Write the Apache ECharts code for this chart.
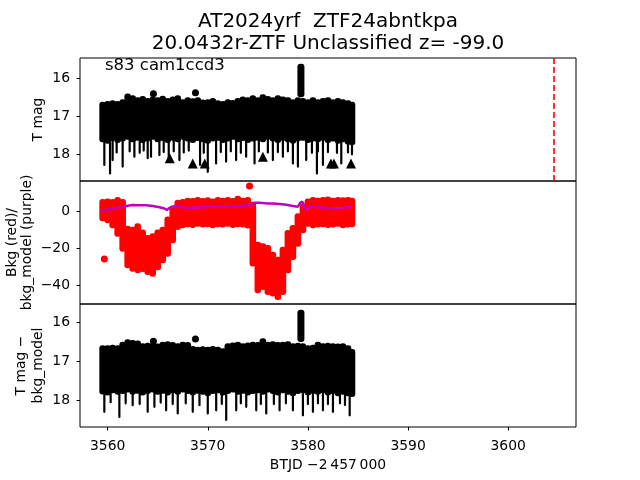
<!DOCTYPE html>
<html><head><meta charset="utf-8">
<script src="https://cdn.jsdelivr.net/npm/echarts@6/dist/echarts.min.js"></script>
<style>html,body{margin:0;padding:0;background:#fff}#c{width:640px;height:480px}</style>
</head><body><div id="c"></div>
<script>
// ---------- data ----------
const xTicks = [3560, 3570, 3580, 3590, 3600];
const magTicks = [16, 17, 18];
const bkgTicks = [-40, -20, 0];

// time bins of the dense light curve
const binT = [3559.5,3560,3560.5,3561,3561.5,3562,3562.5,3563,3563.5,3564,
  3564.5,3565,3565.5,3566,3566.5,3567,3567.5,3568,3568.5,3569,
  3569.5,3570,3570.5,3571,3571.5,3572,3572.5,3573,3573.5,3574,
  3574.5,3575,3575.5,3576,3576.5,3577,3577.5,3578,3578.5,3579,
  3579.5,3580,3580.5,3581,3581.5,3582,3582.5,3583,3583.5,3584,3584.4];

// panel 1: T mag envelope (bright edge / faint edge)
const magTop = [16.62,16.60,16.58,16.60,16.55,16.40,16.45,16.50,16.47,16.52,
  16.48,16.50,16.46,16.52,16.48,16.45,16.55,16.50,16.53,16.50,
  16.56,16.55,16.52,16.58,16.60,16.55,16.57,16.52,16.48,16.50,
  16.45,16.50,16.42,16.47,16.50,16.45,16.48,16.50,16.55,16.50,
  16.52,16.55,16.50,16.55,16.52,16.50,16.55,16.52,16.55,16.58,16.62];
const magBot = [17.68,17.72,17.65,17.70,17.66,17.62,17.68,17.64,17.70,17.66,
  17.62,17.68,17.65,17.70,17.64,17.68,17.62,17.66,17.70,17.65,
  17.68,17.72,17.66,17.64,17.70,17.66,17.62,17.68,17.65,17.70,
  17.66,17.64,17.68,17.62,17.66,17.70,17.64,17.68,17.72,17.66,
  17.64,17.70,17.66,17.68,17.64,17.70,17.66,17.72,17.68,17.74,17.76];
const spkT = [3559.67,3560.24,3560.5,3560.9,3561.5,3562.2,3562.67,3563.2,3563.6,3564.0,
  3564.33,3565.17,3565.6,3566.1,3566.6,3567.17,3567.6,3568.1,3569.23,3569.6,
  3570.0,3570.83,3571.3,3571.83,3572.3,3572.83,3573.3,3573.83,3574.67,3575.1,
  3576.0,3576.5,3577.0,3577.5,3578.0,3578.5,3579.0,3579.83,3580.4,3580.9,
  3581.0,3581.5,3582.0,3582.9,3583.33,3584.0,3584.4];
const spkLow = [18.28,18.5,18.15,17.95,18.32,17.92,18.06,17.96,17.9,18.1,
  18.06,18.02,17.94,18.19,17.92,18.15,17.95,17.9,18.28,17.96,
  18.46,18.24,17.94,18.19,17.92,18.15,17.96,18.06,18.24,17.92,
  17.95,18.15,17.94,18.06,17.92,18.24,18.32,18.15,17.96,18.5,
  17.92,18.28,17.94,17.96,18.24,17.95,18.0];
const dotT = [3564.57, 3568.77];
const dotMag = [16.41, 16.38];
const flareT = [3579.3];
const flareTop = [15.62];
const flareBot = [16.5];
const limT = [3566.2, 3568.5, 3569.7, 3575.5, 3582.3, 3582.6, 3584.3];
const limMag = [18.1, 18.24, 18.24, 18.06, 18.24, 18.24, 18.24];
const refLineT = [3604.5];

// panel 2: background (red) envelope and model (purple)
const bkgTop = [6.5,6.8,6.5,7.5,6.5,-8,-8.5,-6.7,-10,-13,
  -12,-10,-8.5,-3,3,6,6.5,7.2,7,7.5,
  7,7.4,6.8,7.5,7.2,7.6,7,8.2,7.2,7.5,
  5,-16.6,-17.5,-18.4,-22,-24.7,-19.3,-10.3,-7.6,-1.3,
  4,6.8,7.5,7.2,7.6,7.8,7.2,7.6,7.4,7.6,7.2];
const bkgBot = [-5.5,-6.7,-9.4,-13.9,-22,-31,-32.8,-33.7,-33,-34.6,
  -35.5,-32,-28.3,-24.7,-17.5,-10.3,-9.4,-8.8,-9.2,-8.6,
  -9,-8.8,-9.4,-8.8,-9,-8.6,-9.2,-8.8,-9,-9.5,
  -30,-44.5,-42.7,-45.4,-46.3,-48.1,-45.4,-33.7,-26.5,-19.3,
  -12,-8.5,-9.4,-9,-8.8,-9.2,-9,-8.6,-9.4,-9,-8.8];
const bkgOutT = [3559.67, 3574.17];
const bkgOutV = [-26, 13.5];
const modelT = [3559.3,3559.84,3560.5,3561.17,3561.84,3562.5,3563.17,3563.84,3564.5,3565.17,
  3565.67,3565.9,3566.17,3566.5,3566.84,3567.5,3568.17,3569.17,3570.5,3571.84,
  3573.17,3574.0,3574.34,3574.67,3575.17,3575.84,3576.5,3577.17,3577.84,3578.5,
  3579.0,3579.24,3579.44,3579.64,3579.84,3580.17,3580.5,3581.17,3581.84,3582.5,
  3583.17,3583.84,3584.4];
const modelV = [0.2,0.5,1.3,2.0,2.7,3.2,3.1,3.1,2.7,2.0,
  1.3,0.5,1.6,2.3,2.7,2.0,1.6,2.0,2.3,2.3,
  2.7,3.1,3.2,4.5,4.5,4.1,4.1,3.8,3.4,2.7,
  2.3,4.5,5.0,2.3,0.5,2.3,2.3,2.0,1.6,1.3,
  1.6,2.0,2.3];

// panel 3: T mag - bkg_model envelope
const resTop = [16.58,16.58,16.57,16.58,16.49,16.43,16.45,16.46,16.53,16.52,
  16.53,16.54,16.49,16.48,16.50,16.53,16.49,16.50,16.60,16.62,
  16.61,16.62,16.60,16.62,16.66,16.53,16.51,16.49,16.53,16.51,
  16.49,16.50,16.40,16.49,16.48,16.50,16.49,16.48,16.53,16.52,
  16.53,16.58,16.57,16.49,16.53,16.52,16.53,16.54,16.53,16.58,16.68];
const resBot = [17.85,17.88,17.82,17.86,17.84,17.80,17.86,17.83,17.88,17.84,
  17.80,17.86,17.83,17.88,17.82,17.86,17.80,17.84,17.88,17.83,
  17.86,17.90,17.84,17.82,17.88,17.84,17.80,17.86,17.83,17.88,
  17.84,17.82,17.86,17.80,17.84,17.88,17.82,17.86,17.90,17.84,
  17.82,17.88,17.84,17.86,17.82,17.88,17.84,17.90,17.86,17.90,17.92];
const resSpkT = [3559.67,3560.3,3561.17,3561.8,3562.5,3563.2,3564.0,3564.67,3565.3,3565.84,
  3566.5,3567.0,3567.8,3568.5,3569.17,3570.0,3570.84,3571.4,3571.84,3572.84,
  3573.3,3573.84,3574.84,3575.3,3575.84,3576.6,3577.17,3577.8,3578.5,3579.5,
  3580.0,3580.5,3581.0,3581.5,3582.0,3582.5,3583.2,3583.7,3584.17];
const resSpkLow = [18.3,18.05,18.43,18.08,18.13,18.1,18.3,18.17,18.06,18.26,
  18.1,18.34,18.08,18.3,18.13,18.34,18.26,18.1,18.51,18.26,
  18.08,18.17,18.26,18.1,18.34,18.1,18.26,18.08,18.26,18.39,
  18.1,18.3,18.08,18.26,18.1,18.3,18.08,18.12,18.39];
const resDotT = [3564.57, 3568.77];
const resDotMag = [16.48, 16.42];
const resFlareTop = [15.67];
const resFlareBot = [16.5];

// ---------- chart ----------
const FONT = 'DejaVu Sans';
const zip2 = (a, b) => a.map((v, i) => [v, b[i]]);
const zip3 = (a, b, c) => a.map((v, i) => [v, b[i], c[i]]);

function bandRender(color, span, pad) {
  return function (params, api) {
    const t = api.value(0);
    const a = api.coord([t, api.value(1)]);
    const b = api.coord([t, api.value(2)]);
    const w = api.size([span, 0])[0];
    return {
      type: 'rect',
      shape: { x: a[0] - w / 2 - pad, y: Math.min(a[1], b[1]), width: w + 2 * pad, height: Math.abs(b[1] - a[1]), r: 3 },
      style: { fill: color }
    };
  };
}
function spikeRender(base) {
  return function (params, api) {
    const t = api.value(0);
    const a = api.coord([t, base]);
    const b = api.coord([t, api.value(1)]);
    return { type: 'line', shape: { x1: a[0], y1: a[1], x2: b[0], y2: b[1] }, style: { stroke: '#000', lineWidth: 2.2, lineCap: 'round' } };
  };
}

const X_MIN = 3557.24, X_MAX = 3606.77;
const grids = [0, 1, 2].map(i => ({
  left: 80, right: 64, top: 58 + 123 * i, height: 123,
  containLabel: false, outerBoundsMode: 'none',
  show: true, borderColor: '#000', borderWidth: 1, backgroundColor: 'transparent'
}));
const axisTxt = { color: '#000', fontSize: 13.9, fontFamily: FONT };
const xAxes = [0, 1, 2].map(i => ({
  type: 'value', gridIndex: i, min: X_MIN, max: X_MAX,
  axisLine: { show: false, onZero: false },
  axisTick: { show: i === 2, length: 3.5, lineStyle: { color: '#000', width: 1 }, customValues: xTicks },
  axisLabel: Object.assign({ show: i === 2, customValues: xTicks, margin: 12, formatter: v => String(v) }, axisTxt),
  splitLine: { show: false },
  name: i === 2 ? 'BTJD \u22122\u2009457\u2009000' : '',
  nameLocation: 'middle', nameGap: 31, nameMoveOverlap: false,
  nameTextStyle: axisTxt
}));
const fmtMinus = v => (v < 0 ? '\u2212' + Math.abs(v) : String(v));
function yAx(i, min, max, inverse, ticks, name, gap, lh) {
  return {
    type: 'value', gridIndex: i, min: min, max: max, inverse: inverse,
    axisLine: { show: false, onZero: false },
    axisTick: { show: true, length: 3.5, lineStyle: { color: '#000', width: 1 }, customValues: ticks },
    axisLabel: Object.assign({ customValues: ticks, margin: 10, formatter: fmtMinus }, axisTxt),
    splitLine: { show: false },
    name: name, nameLocation: 'middle', nameRotate: 90, nameGap: gap, nameMoveOverlap: false,
    nameTextStyle: Object.assign({ lineHeight: lh }, axisTxt)
  };
}
const yAxes = [
  yAx(0, 15.47, 18.70, true, magTicks, 'T mag', 34, 16),
  yAx(1, -50.3, 16.2, false, bkgTicks, 'Bkg (red)/\nbkg_model (purple)', 45, 15),
  yAx(2, 15.52, 18.69, true, magTicks, 'T mag \u2212\nbkg_model', 33, 17)
];

const series = [
  // panel 1
  { type: 'custom', xAxisIndex: 0, yAxisIndex: 0, renderItem: spikeRender(17.5), data: zip2(spkT, spkLow), encode: { x: 0, y: 1 }, z: 2 },
  { type: 'custom', xAxisIndex: 0, yAxisIndex: 0, renderItem: bandRender('#000', 0.5, 0.8), data: zip3(binT, magTop, magBot), encode: { x: 0, y: [1, 2] }, z: 3 },
  { type: 'custom', xAxisIndex: 0, yAxisIndex: 0, renderItem: bandRender('#000', 0.5, 1), data: zip3(flareT, flareTop, flareBot), encode: { x: 0, y: [1, 2] }, z: 3 },
  { type: 'scatter', xAxisIndex: 0, yAxisIndex: 0, data: zip2(dotT, dotMag), symbolSize: 7, itemStyle: { color: '#000', opacity: 1 }, z: 4,
    markLine: { silent: true, symbol: ['none', 'none'], label: { show: false },
      lineStyle: { color: '#ff0000', type: [6, 3], width: 1.6, opacity: 1 },
      data: refLineT.map(t => ({ xAxis: t })) } },
  { type: 'scatter', xAxisIndex: 0, yAxisIndex: 0, data: zip2(limT, limMag), symbol: 'triangle', symbolSize: 10, itemStyle: { color: '#000', opacity: 1 }, z: 4 },
  // panel 2
  { type: 'custom', xAxisIndex: 1, yAxisIndex: 1, renderItem: bandRender('#ff0000', 0.5, 0.8), data: zip3(binT, bkgTop, bkgBot), encode: { x: 0, y: [1, 2] }, z: 3 },
  { type: 'scatter', xAxisIndex: 1, yAxisIndex: 1, data: zip2(bkgOutT, bkgOutV), symbolSize: 7, itemStyle: { color: '#ff0000', opacity: 1 }, z: 3 },
  { type: 'line', xAxisIndex: 1, yAxisIndex: 1, data: zip2(modelT, modelV), showSymbol: false, lineStyle: { color: '#bf00bf', width: 2.5 }, z: 5 },
  // panel 3
  { type: 'custom', xAxisIndex: 2, yAxisIndex: 2, renderItem: spikeRender(17.6), data: zip2(resSpkT, resSpkLow), encode: { x: 0, y: 1 }, z: 2 },
  { type: 'custom', xAxisIndex: 2, yAxisIndex: 2, renderItem: bandRender('#000', 0.5, 0.8), data: zip3(binT, resTop, resBot), encode: { x: 0, y: [1, 2] }, z: 3 },
  { type: 'custom', xAxisIndex: 2, yAxisIndex: 2, renderItem: bandRender('#000', 0.5, 1), data: zip3(flareT, resFlareTop, resFlareBot), encode: { x: 0, y: [1, 2] }, z: 3 },
  { type: 'scatter', xAxisIndex: 2, yAxisIndex: 2, data: zip2(resDotT, resDotMag), symbolSize: 7, itemStyle: { color: '#000', opacity: 1 }, z: 4 }
];

const chart = echarts.init(document.getElementById('c'), null, { renderer: 'canvas' });
chart.setOption({
  animation: false,
  backgroundColor: '#fff',
  title: [
    { text: 'AT2024yrf  ZTF24abntkpa\n20.0432r-ZTF Unclassified z= -99.0', left: 328, top: 11, padding: 0, textAlign: 'center',
      textStyle: { fontFamily: FONT, fontSize: 20, fontWeight: 'normal', color: '#000', lineHeight: 22 } },
    { text: 's83 cam1ccd3', left: 105, top: 57, padding: 0,
      textStyle: { fontFamily: FONT, fontSize: 16.5, fontWeight: 'normal', color: '#000' } }
  ],
  grid: grids,
  xAxis: xAxes,
  yAxis: yAxes,
  series: series
});
</script>
</body></html>
